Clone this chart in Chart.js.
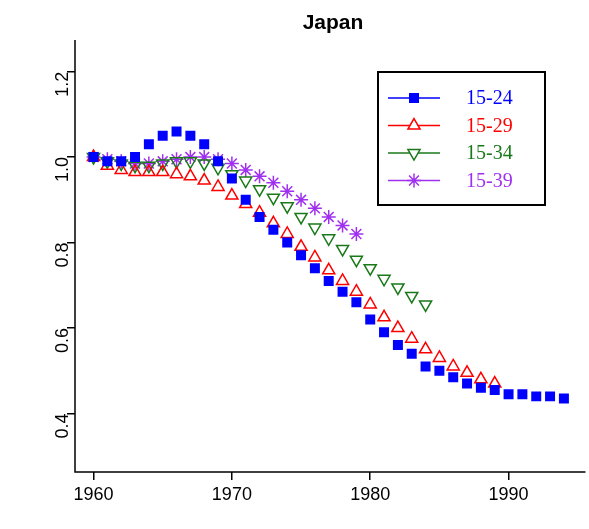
<!DOCTYPE html>
<html><head><meta charset="utf-8">
<script src="https://cdn.jsdelivr.net/npm/chart.js@4/dist/chart.umd.min.js"></script>
<style>html,body{margin:0;padding:0;background:#fff}#w{width:589px;height:529px}</style>
</head><body><div id="w"><canvas id="c"></canvas></div>
<script>
const title = "Japan";
const xTicks = [1960, 1970, 1980, 1990];
const yTicks = [0.4, 0.6, 0.8, 1.0, 1.2];
const names = ["15-24", "15-29", "15-34", "15-39"];
const colors = ["#0000ff", "#ff0000", "#1a7a1a", "#a030f0"];
const start = 1960;
const v1524 = [1.00,0.99,0.99,1.00,1.03,1.05,1.06,1.05,1.03,0.99,0.95,0.90,0.86,0.83,0.80,0.77,0.74,0.71,0.685,0.66,0.62,0.59,0.56,0.54,0.51,0.50,0.485,0.47,0.46,0.455,0.445,0.445,0.44,0.44,0.435];
const v1529 = [1.00,0.98,0.97,0.965,0.965,0.965,0.96,0.955,0.945,0.93,0.91,0.89,0.87,0.845,0.82,0.79,0.765,0.735,0.71,0.685,0.655,0.625,0.60,0.575,0.55,0.53,0.51,0.495,0.48,0.47];
const v1534 = [1.00,0.99,0.985,0.98,0.98,0.985,0.99,0.99,0.985,0.975,0.96,0.945,0.925,0.905,0.885,0.86,0.835,0.81,0.785,0.76,0.74,0.715,0.695,0.675,0.655];
const v1539 = [1.00,0.995,0.99,0.985,0.985,0.99,0.995,1.00,1.00,0.995,0.985,0.97,0.955,0.94,0.92,0.90,0.88,0.86,0.84,0.82];
const series = [v1524, v1529, v1534, v1539];
const styles = [
  {pointStyle:'rect', fill:true, rot:0, r:6},
  {pointStyle:'triangle', fill:false, rot:0, r:7},
  {pointStyle:'triangle', fill:false, rot:180, r:7},
  {pointStyle:'star', fill:false, rot:0, r:7}
];
const datasets = series.map((arr,i)=>({
  label: names[i],
  data: arr.map((v,k)=>({x:start+k,y:v})),
  showLine:false,
  borderColor: colors[i],
  backgroundColor: styles[i].fill ? colors[i] : 'rgba(0,0,0,0)',
  pointStyle: styles[i].pointStyle,
  pointRotation: styles[i].rot,
  pointRadius: styles[i].r,
  borderWidth: 1.5
}));
const deco = {
  id:'deco',
  afterDraw(ch){
    const c=ch.ctx, a=ch.chartArea;
    c.save();
    c.strokeStyle='#000'; c.lineWidth=1.5;
    c.beginPath();
    c.moveTo(a.left,a.top); c.lineTo(a.left,a.bottom); c.lineTo(a.right+5,a.bottom);
    c.stroke();
    c.fillStyle='#000'; c.font='bold 21px "Liberation Sans", Arial, sans-serif';
    c.textAlign='center'; c.textBaseline='middle';
    c.fillText(title, 333, 23);
    // legend
    const lx=378, ly=72, lw=167, lh=133;
    c.lineWidth=2; c.strokeRect(lx,ly,lw,lh);
    c.font='20px "Liberation Serif", serif'; c.textAlign='left';
    names.forEach((n,i)=>{
      const y=ly+26+i*27.5;
      c.strokeStyle=colors[i]; c.lineWidth=1.5;
      c.beginPath(); c.moveTo(lx+10,y); c.lineTo(lx+62,y); c.stroke();
      c.fillStyle = styles[i].fill ? colors[i] : '#fff';
      Chart.helpers.drawPoint(c,{pointStyle:styles[i].pointStyle,rotation:styles[i].rot,radius:styles[i].r,borderWidth:1.5},lx+36,y);
      c.fillStyle=colors[i]; c.fillText(n, lx+88, y+1);
    });
    c.restore();
  }
};
new Chart(document.getElementById('c'),{
  type:'scatter',
  data:{datasets},
  plugins:[deco],
  options:{
    responsive:true, maintainAspectRatio:false, animation:false,
    layout:{padding:{top:40,right:0,left:0,bottom:0}},
    plugins:{legend:{display:false},tooltip:{enabled:false}},
    scales:{
      x:{type:'linear',min:1958.66,max:1995.2,
        afterBuildTicks(s){s.ticks=xTicks.map(v=>({value:v}));},
        afterFit(s){s.height=57;},
        border:{display:false},
        grid:{drawOnChartArea:false,tickLength:8,color:'#000',lineWidth:1.5},
        ticks:{color:'#000',font:{size:18,family:'"Liberation Sans", Arial'},padding:4,maxRotation:0,callback:v=>String(v)}},
      y:{min:0.263,max:1.274,
        afterBuildTicks(s){s.ticks=yTicks.map(v=>({value:v}));},
        afterFit(s){s.width=75;},
        border:{display:false},
        grid:{drawOnChartArea:false,tickLength:8,color:'#000',lineWidth:1.5},
        ticks:{color:'#000',font:{size:18,family:'"Liberation Sans", Arial'},padding:4,maxRotation:90,minRotation:90,callback:v=>v.toFixed(1)}}
    }
  }
});
</script></body></html>
